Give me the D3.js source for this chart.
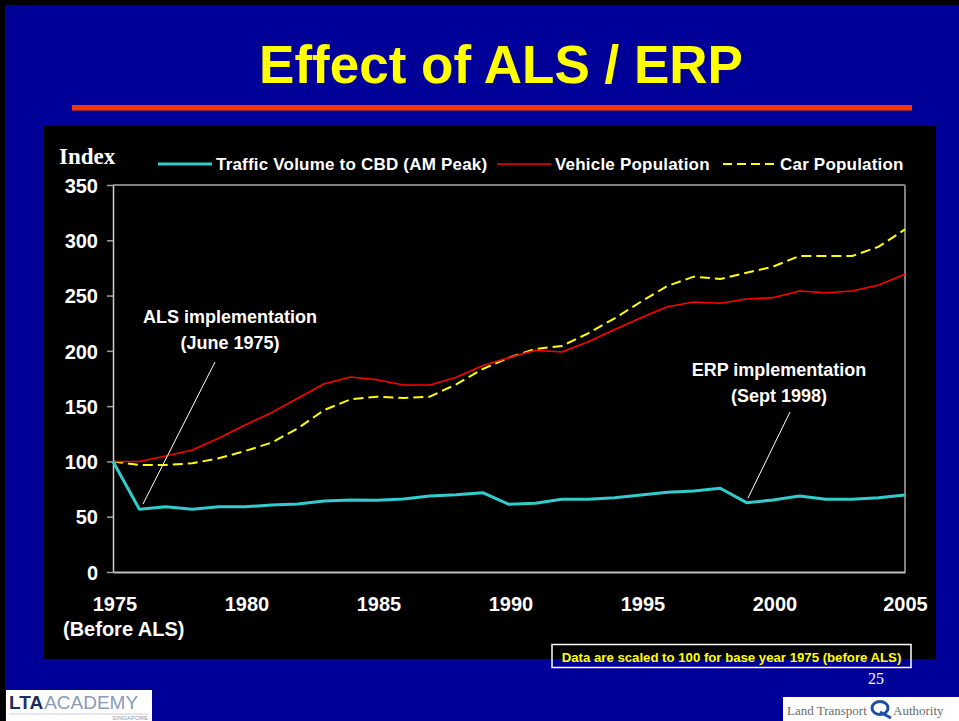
<!DOCTYPE html>
<html>
<head>
<meta charset="utf-8">
<script src="https://cdn.jsdelivr.net/npm/d3@7/dist/d3.min.js"></script>
<style>
  html, body { margin: 0; padding: 0; background: #000; }
  svg { display: block; }
</style>
</head>
<body>
<svg id="chart" width="959" height="721"></svg>
<script>
// ---------- DATA ----------
const years = d3.range(1975, 2006);
const trafficVolume = [100, 56.7, 59, 56.7, 59, 59, 60.6, 61.5, 64.2, 65.1, 65, 66, 68.7, 69.9, 71.7,
  61.2, 62.1, 65.7, 65.7, 67.2, 69.6, 72.1, 73.3, 75.7, 62.7, 65.1, 68.7, 65.7, 65.7, 67.2, 69.6];
const vehiclePopulation = [100, 100, 104.9, 110.3, 120.9, 132.9, 144.1, 157.1, 170.3, 176.4, 173.9, 169.1, 169.1, 176.1, 186.5,
  194, 200.5, 199, 208.3, 219.4, 230, 239.9, 244.2, 243, 246.9, 248.1, 254.1, 252.6, 254.1, 259.6, 269.2];
const carPopulation = [100, 96.8, 96.8, 98.3, 102.8, 109.4, 116.9, 129.9, 146.5, 156.2, 158.6, 157.4, 158.6, 169.7, 183.5,
  194, 201.7, 204.4, 215.9, 229.4, 244.5, 258.7, 267.1, 265, 270.7, 276.1, 285.8, 285.8, 285.8, 294.2, 309.9];
const yTicks = [0, 50, 100, 150, 200, 250, 300, 350];
const xTicks = [1975, 1980, 1985, 1990, 1995, 2000, 2005];
const seriesNames = ["Traffic Volume to CBD (AM Peak)", "Vehicle Population", "Car Population"];
const titleText = "Effect of ALS / ERP";
const noteText = "Data are scaled to 100 for base year 1975 (before ALS)";

// ---------- LAYOUT ----------
const svg = d3.select("#chart");
const W = 959, H = 721;
const plot = { left: 113, right: 905, top: 185, bottom: 572 };
const FONT = "Arial, 'Liberation Sans', Helvetica, sans-serif";
const SERIF = "'Times New Roman', 'Liberation Serif', serif";

// slide background
svg.append("rect").attr("x", 0).attr("y", 0).attr("width", W).attr("height", H).attr("fill", "#000");
svg.append("rect").attr("x", 5).attr("y", 5).attr("width", W - 5).attr("height", H - 5).attr("fill", "#000099");

// title
svg.append("text").attr("x", 501).attr("y", 83).attr("text-anchor", "middle")
  .attr("font-family", FONT).attr("font-weight", "bold").attr("font-size", 53)
  .attr("fill", "#FFFF00").text(titleText);
svg.append("rect").attr("x", 72).attr("y", 105).attr("width", 840).attr("height", 5.5).attr("fill", "#FF3300");

// black chart panel
svg.append("rect").attr("x", 44).attr("y", 126).attr("width", 892).attr("height", 533).attr("fill", "#000");

// scales
const x = d3.scaleLinear().domain([1975, 2005]).range([plot.left, plot.right]);
const y = d3.scaleLinear().domain([0, 350]).range([plot.bottom, plot.top]);

// frame: top and right gray
svg.append("line").attr("x1", plot.left).attr("x2", plot.right).attr("y1", y(350)).attr("y2", y(350))
  .attr("stroke", "#808080").attr("stroke-width", 2);
svg.append("line").attr("x1", plot.right).attr("x2", plot.right).attr("y1", y(350)).attr("y2", y(0))
  .attr("stroke", "#808080").attr("stroke-width", 2);

// y axis
const yAxis = svg.append("g").attr("transform", `translate(${plot.left},0)`)
  .call(d3.axisLeft(y).tickValues(yTicks).tickSize(6).tickPadding(10).tickSizeOuter(0));
yAxis.select(".domain").attr("stroke", "#d0d0d0").attr("stroke-width", 1.5);
yAxis.selectAll(".tick line").attr("stroke", "#a0a0a0").attr("stroke-width", 1.5);
yAxis.selectAll(".tick text").attr("font-family", FONT).attr("font-weight", "bold")
  .attr("font-size", 20).attr("fill", "#fff").attr("dy", "0.36em").attr("x", -15);

// x axis
const xAxis = svg.append("g").attr("transform", `translate(0,${plot.bottom})`)
  .call(d3.axisBottom(x).tickValues(xTicks).tickSize(0).tickPadding(0).tickFormat(d3.format("d")).tickSizeOuter(0));
xAxis.select(".domain").attr("stroke", "#c0c0c0").attr("stroke-width", 2);
xAxis.selectAll(".tick text").attr("font-family", FONT).attr("font-weight", "bold")
  .attr("font-size", 20).attr("fill", "#fff").attr("dy", null).attr("y", 39).attr("dx", 1.5);
xAxis.selectAll(".tick").filter(d => d === 2005).select("text").attr("dx", 0);

svg.append("text").attr("x", 63).attr("y", 636).attr("font-family", FONT).attr("font-weight", "bold")
  .attr("font-size", 20).attr("fill", "#fff").text("(Before ALS)");

// Index label
svg.append("text").attr("x", 59).attr("y", 164).attr("font-family", SERIF).attr("font-weight", "bold")
  .attr("font-size", 23).attr("fill", "#fff").text("Index");

// lines
const seriesData = [
  { name: seriesNames[0], values: trafficVolume, color: "#33CCCC", width: 3, dash: null },
  { name: seriesNames[1], values: vehiclePopulation, color: "#FF0000", width: 1.6, dash: null },
  { name: seriesNames[2], values: carPopulation, color: "#FFFF00", width: 2, dash: "10,5" }
];
const line = d3.line().x((d, i) => x(years[i])).y(d => y(d));
[seriesData[2], seriesData[1], seriesData[0]].forEach(s => {
  svg.append("path").datum(s.values).attr("d", line).attr("fill", "none")
    .attr("stroke", s.color).attr("stroke-width", s.width)
    .attr("stroke-dasharray", s.dash).attr("stroke-linejoin", "round");
});

// legend
const legendItems = [
  { s: seriesData[0], x1: 158, x2: 212, tx: 216 },
  { s: seriesData[1], x1: 497, x2: 551, tx: 555 },
  { s: seriesData[2], x1: 723, x2: 776, tx: 780 }
];
const lg = svg.append("g");
legendItems.forEach(it => {
  lg.append("line").attr("x1", it.x1).attr("x2", it.x2).attr("y1", 164).attr("y2", 164)
    .attr("stroke", it.s.color).attr("stroke-width", it.s.width)
    .attr("stroke-dasharray", it.s.dash ? "9,5" : null);
  lg.append("text").attr("x", it.tx).attr("y", 170).attr("font-family", FONT).attr("font-weight", "bold")
    .attr("font-size", 17).attr("letter-spacing", 0.2).attr("fill", "#fff").text(it.s.name);
});

// annotations
function annot(lines, cx, y0, lh, from, to) {
  lines.forEach((t, i) => {
    svg.append("text").attr("x", cx).attr("y", y0 + i * lh).attr("text-anchor", "middle")
      .attr("font-family", FONT).attr("font-weight", "bold").attr("font-size", 18)
      .attr("fill", "#fff").text(t);
  });
  svg.append("line").attr("x1", from[0]).attr("y1", from[1]).attr("x2", to[0]).attr("y2", to[1])
    .attr("stroke", "#fff").attr("stroke-width", 1);
}
annot(["ALS implementation", "(June 1975)"], 230, 323, 25.5, [215, 362], [143, 504]);
annot(["ERP implementation", "(Sept 1998)"], 779, 376, 26, [790, 412], [748, 498]);

// note box
svg.append("rect").attr("x", 552).attr("y", 644.5).attr("width", 359).attr("height", 23)
  .attr("fill", "none").attr("stroke", "#fff").attr("stroke-width", 1.5);
svg.append("text").attr("x", 731.5).attr("y", 661.5).attr("text-anchor", "middle")
  .attr("font-family", FONT).attr("font-weight", "bold").attr("font-size", 13.2)
  .attr("fill", "#FFFF00").text(noteText);

// page number
svg.append("text").attr("x", 876).attr("y", 684).attr("text-anchor", "middle")
  .attr("font-family", SERIF).attr("font-size", 16).attr("fill", "#fff").text("25");

// LTA Academy logo
svg.append("rect").attr("x", 6).attr("y", 690).attr("width", 146).attr("height", 31).attr("fill", "#fff");
const lta = svg.append("text").attr("x", 9).attr("y", 709).attr("font-family", FONT).attr("font-size", 19);
lta.append("tspan").attr("font-weight", "bold").attr("fill", "#1c2f5c").text("LTA");
lta.append("tspan").attr("fill", "#8a9bb8").attr("dx", 1).text("ACADEMY");
svg.append("line").attr("x1", 9).attr("x2", 148).attr("y1", 714).attr("y2", 714).attr("stroke", "#c8cfdc").attr("stroke-width", 1);
svg.append("text").attr("x", 148).attr("y", 720).attr("text-anchor", "end").attr("font-family", FONT)
  .attr("font-size", 6).attr("fill", "#8a9bb8").text("SINGAPORE");

// Land Transport Authority logo
svg.append("rect").attr("x", 783).attr("y", 697).attr("width", 176).attr("height", 24).attr("fill", "#fff");
svg.append("text").attr("x", 787).attr("y", 715).attr("font-family", SERIF).attr("font-size", 13)
  .attr("fill", "#6a6a6a").text("Land Transport");
svg.append("ellipse").attr("cx", 880).attr("cy", 708).attr("rx", 8).attr("ry", 6.5)
  .attr("fill", "none").attr("stroke", "#1f4fa0").attr("stroke-width", 3);
svg.append("line").attr("x1", 880).attr("y1", 712).attr("x2", 891).attr("y2", 718)
  .attr("stroke", "#1f4fa0").attr("stroke-width", 3);
svg.append("text").attr("x", 893).attr("y", 715).attr("font-family", SERIF).attr("font-size", 13)
  .attr("fill", "#6a6a6a").text("Authority");
</script>
</body>
</html>
